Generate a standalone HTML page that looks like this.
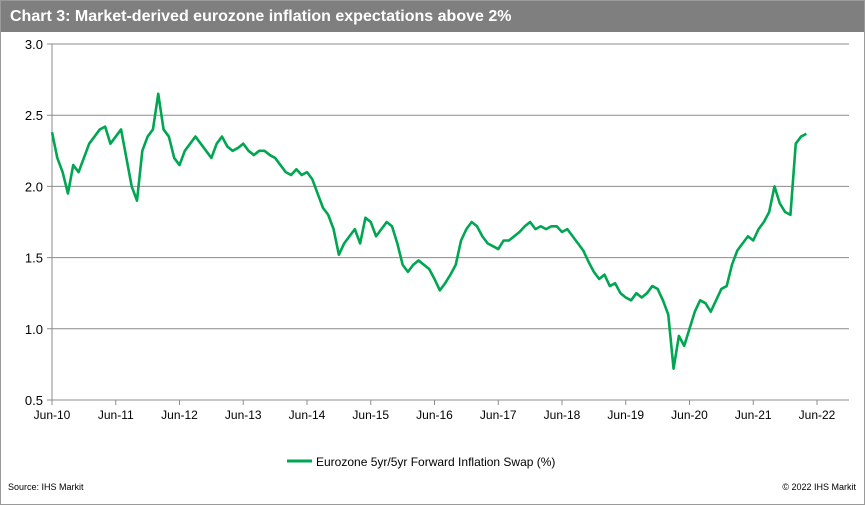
<!DOCTYPE html>
<html><head><meta charset="utf-8"><style>
body{margin:0;background:#fff;font-family:"Liberation Sans",Arial,sans-serif}
#wrap{position:relative;width:863px;height:503px;border:1px solid #9a9a9a;overflow:hidden}
#hdr{position:absolute;left:0;top:0;width:863px;height:31px;background:#7f7f7f;color:#fff;font-weight:bold;font-size:16px;line-height:31px;padding-left:9px;box-sizing:border-box}
.s{position:absolute;font-size:9px;color:#000;top:481px}
</style></head><body>
<div id="wrap">
<div id="hdr">Chart 3: Market-derived eurozone inflation expectations above 2%</div>
<svg id="c" width="863" height="503" style="position:absolute;left:0;top:0"></svg>
<div class="s" style="left:7px">Source: IHS Markit</div>
<div class="s" style="right:8px">© 2022 IHS Markit</div>
</div>
<script>
const yTicks=[0.5,1.0,1.5,2.0,2.5,3.0];
const xLabels=["Jun-10","Jun-11","Jun-12","Jun-13","Jun-14","Jun-15","Jun-16","Jun-17","Jun-18","Jun-19","Jun-20","Jun-21","Jun-22"];
const swapValues=[
2.38,2.2,2.1,1.95,2.15,2.1,2.2,
2.3,2.35,2.4,2.42,2.3,2.35,2.4,2.2,2.0,1.9,2.25,2.35,
2.4,2.65,2.4,2.35,2.2,2.15,2.25,2.3,2.35,2.3,2.25,2.2,
2.3,2.35,2.28,2.25,2.27,2.3,2.25,2.22,2.25,2.25,2.22,2.2,
2.15,2.1,2.08,2.12,2.08,2.1,2.05,1.95,1.85,1.8,1.7,1.52,
1.6,1.65,1.7,1.6,1.78,1.75,1.65,1.7,1.75,1.72,1.6,1.45,
1.4,1.45,1.48,1.45,1.42,1.35,1.27,1.32,1.38,1.45,1.62,1.7,
1.75,1.72,1.65,1.6,1.58,1.56,1.62,1.62,1.65,1.68,1.72,1.75,
1.7,1.72,1.7,1.72,1.72,1.68,1.7,1.65,1.6,1.55,1.47,1.4,
1.35,1.38,1.3,1.32,1.25,1.22,1.2,1.25,1.22,1.25,1.3,1.28,
1.2,1.1,0.72,0.95,0.88,1.0,1.12,1.2,1.18,1.12,1.2,1.28,
1.3,1.45,1.55,1.6,1.65,1.62,1.7,1.75,1.82,2.0,1.88,1.82,
1.8,2.3,2.35,2.37];
const X0=51,X1=848,Y0=399,Y1=43,PX_YEAR=63.75;
const x=m=>X0+m*PX_YEAR/12;
const y=v=>Y0-(v-0.5)/2.5*(Y0-Y1);
const svg=document.getElementById('c');const NS='http://www.w3.org/2000/svg';
function mk(t,a){const e=document.createElementNS(NS,t);for(const k in a)e.setAttribute(k,a[k]);svg.appendChild(e);return e;}
yTicks.forEach(v=>{
 const l=mk('line',{x1:X0-5,x2:X1,y1:y(v),y2:y(v),stroke:'#8c8c8c','stroke-width':1});
 
 
 const t=mk('text',{x:X0-9,y:y(v)+5,'text-anchor':'end','font-size':13,'font-family':'Liberation Sans, sans-serif'});
 t.textContent=v.toFixed(1);
 
 
});
const ax=mk('line',{x1:X0,x2:X0,y1:Y1,y2:Y0,stroke:'#8c8c8c'});


xLabels.forEach((s,i)=>{
 const xx=x(i*12);
 const tk=mk('line',{x1:xx,x2:xx,y1:Y0,y2:Y0+5,stroke:'#8c8c8c'});
 
 
 const t=mk('text',{x:xx,y:Y0+19,'text-anchor':'middle','font-size':12,'font-family':'Liberation Sans, sans-serif'});
 t.textContent=s;
 
 
});
const p=mk('polyline',{points:swapValues.map((v,i)=>x(i)+','+y(v)).join(' '),fill:'none',stroke:'#00a651','stroke-width':2.6,'stroke-linejoin':'round'});


const ll=mk('line',{x1:286,x2:311,y1:460,y2:460,stroke:'#00a651','stroke-width':3});


const lt=mk('text',{x:315,y:465,'font-size':12,'font-family':'Liberation Sans, sans-serif'});
lt.textContent='Eurozone 5yr/5yr Forward Inflation Swap (%)';


</script>
</body></html>
